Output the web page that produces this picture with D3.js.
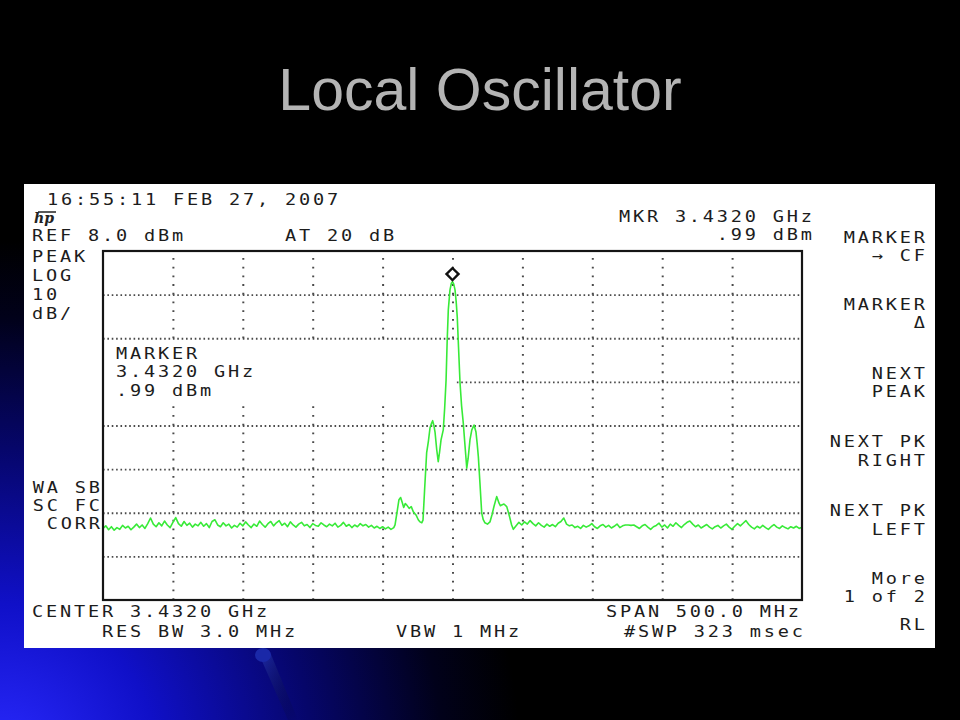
<!DOCTYPE html>
<html><head><meta charset="utf-8">
<script src="https://cdn.jsdelivr.net/npm/d3@7"></script>
<style>html,body{margin:0;padding:0;background:#000;overflow:hidden}</style>
</head><body><svg id="c" width="960" height="720"></svg>
<script>
// ---------------- data ----------------
const titleText = "Local Oscillator";
const centerMHz = 3432;
const spanMHz = 500;
const refLevelDbm = 8;
const dbPerDiv = 10;
const vDivs = 8;
const hDivs = 10;
const markerOffsetMHz = 0;
const markerLevelDbm = 0.99;

// noise floor left of the carrier (offsets -250 .. -42 MHz)
const noiseLeftRangeMHz = [-250, -42];
const noiseLeftDbm = [
  -55.6, -55.0, -55.9, -55.2, -56.0, -55.4, -55.8, -54.9, -55.5, -55.1, -55.9, -55.3, -54.6, -55.4, -54.8, -55.6, -54.5,
  -53.2, -54.6, -55.2, -54.3, -55.0, -53.9, -54.8, -55.4, -54.2, -53.1, -54.5, -55.1, -54.0, -54.9, -54.4, -55.3, -54.6, -55.0,
  -54.2, -55.1, -54.5, -55.4, -54.0, -53.6, -54.8, -55.2, -54.3, -55.0, -54.6, -55.5, -54.9, -55.3, -54.4, -55.0, -54.1, -54.8, -55.4, -54.6, -55.1,
  -53.9, -54.7, -55.3, -54.5, -54.0, -55.0, -54.3, -53.8, -54.9, -54.4, -55.2, -54.1, -54.8, -55.3, -54.6, -54.2, -55.0, -54.7, -55.4, -54.5, -54.9, -55.1, -54.3, -54.8, -55.2,
  -54.6, -55.0, -54.4, -55.3, -54.9, -54.2, -55.1, -54.7, -55.4, -54.8, -55.2, -54.5, -55.0, -54.7, -55.3, -54.9, -55.5, -55.1, -55.6, -55.2, -55.7, -55.3, -55.8, -55.4
];

// carrier and close-in sidebands
const signalOffsetMHz = [
  -41.1, -39.5, -38.3, -37.1, -36.0, -34.9, -33.8, -32.8, -31.0, -29.5, -28.0, -26.1, -24.5, -23.2, -22.0, -21.1,
  -20.0, -18.5, -17.2, -16.1, -15.0, -14.2, -13.3, -12.5, -11.3, -10.2, -9.2, -8.2, -6.6, -5.6, -4.6, -3.8, -3.0, -1.8, -0.8,
  0.0, 0.9, 1.8, 2.6, 3.4, 4.3, 5.4, 6.5, 7.7, 8.8, 10.2, 11.2, 12.5, 13.8, 15.4, 16.8, 17.6, 18.5, 19.6, 20.9, 22.0, 23.2,
  25.0, 26.8, 28.3, 29.7, 31.6, 32.5, 33.3, 34.3, 35.2, 36.8, 38.8, 40.5, 42.3
];
const signalLevelDbm = [
  -54.8, -51.5, -49.0, -48.5, -49.6, -50.8, -49.9, -50.2, -51.0, -50.6, -51.8, -52.5, -53.6, -54.1, -54.3, -53.7,
  -47.0, -38.3, -35.5, -32.6, -31.5, -30.9, -32.0, -33.5, -37.5, -40.3, -38.0, -35.3, -33.0, -28.0, -21.6, -12.5, -5.5, -0.9, 0.6,
  0.99, 0.4, -0.9, -3.5, -7.1, -14.0, -22.3, -27.5, -31.4, -36.0, -41.8, -39.5, -35.3, -33.0, -31.9, -33.5, -36.0, -39.2, -45.0, -52.1, -53.6, -54.3,
  -54.6, -54.1, -52.4, -50.5, -48.3, -49.1, -49.8, -50.4, -50.2, -50.0, -50.6, -52.5, -54.8
];

// noise floor right of the carrier (offsets 43.5 .. 250 MHz)
const noiseRightRangeMHz = [43.5, 250];
const noiseRightDbm = [
  -55.8, -55.0, -54.2, -54.8, -54.1, -54.6, -53.8, -54.5, -55.0, -54.3, -54.9, -55.3, -54.6, -55.1, -54.7, -55.2, -54.4, -54.0, -53.2, -54.6,
  -55.0, -54.8, -55.4, -55.1, -55.6, -54.9, -55.3, -55.0, -54.5, -55.2, -55.6, -55.0, -54.7, -55.3, -54.9, -55.5, -55.1, -54.6, -55.4, -55.0,
  -54.8, -54.8, -54.9, -54.8, -55.2, -55.6, -55.0, -54.7, -55.3, -55.8, -55.2, -54.9, -54.4, -55.3, -54.8, -55.5, -54.6, -55.1, -54.3, -54.9,
  -55.4, -54.7, -54.2, -53.9, -54.6, -55.2, -54.8, -55.5, -55.1, -54.7, -55.3, -55.7, -55.2, -54.9, -55.5, -55.0, -54.6, -55.3, -55.8, -55.1,
  -54.5, -55.0, -54.4, -53.8, -54.7, -55.3, -55.7, -55.1, -55.5, -54.9, -55.4, -55.8, -55.2, -54.7, -55.3, -55.6, -55.0, -55.4, -55.7, -55.2,
  -55.5, -55.1, -55.6, -55.3
];

// screen annotations
const dateText = "16:55:11 FEB 27, 2007";
const logoText = "hp";
const refText = "REF 8.0 dBm";
const attenText = "AT 20 dB";
const mkrReadout = ["MKR 3.4320 GHz", ".99 dBm"];
const modeLines = ["PEAK", "LOG", "10", "dB/"];
const markerBoxLines = ["MARKER", "3.4320 GHz", ".99 dBm"];
const corrLines = ["WA SB", "SC FC", "CORR"];
const softkeys = [["MARKER", "\u2192 CF"], ["MARKER", "\u0394"], ["NEXT", "PEAK"], ["NEXT PK", "RIGHT"], ["NEXT PK", "LEFT"], ["More", "1 of 2"], ["RL"]];
const footerRow1 = ["CENTER 3.4320 GHz", "SPAN 500.0 MHz"];
const footerRow2 = ["RES BW 3.0 MHz", "VBW 1 MHz", "#SWP 323 msec"];

// ---------------- drawing ----------------
const svg = d3.select("#c");
const W = 960, H = 720;
const defs = svg.append("defs");

const rg = defs.append("radialGradient").attr("id", "bg").attr("gradientUnits", "userSpaceOnUse")
  .attr("cx", 0).attr("cy", 760).attr("r", 520);
rg.append("stop").attr("offset", 0).attr("stop-color", "#2a2aff");
rg.append("stop").attr("offset", 0.3).attr("stop-color", "#1010c8");
rg.append("stop").attr("offset", 0.6).attr("stop-color", "#06066a");
rg.append("stop").attr("offset", 0.85).attr("stop-color", "#01011a");
rg.append("stop").attr("offset", 1).attr("stop-color", "#000000");
svg.append("rect").attr("width", W).attr("height", H).attr("fill", "#000");
svg.append("rect").attr("width", W).attr("height", H).attr("fill", "url(#bg)");

// decorative pin below the panel
const pg = defs.append("linearGradient").attr("id", "pin").attr("x1", 0).attr("y1", 0).attr("x2", 1).attr("y2", 1);
pg.append("stop").attr("offset", 0).attr("stop-color", "#2a3cc0").attr("stop-opacity", 0.7);
pg.append("stop").attr("offset", 1).attr("stop-color", "#000").attr("stop-opacity", 0);
svg.append("path").attr("d", "M258,652 L270,652 L298,720 L288,720 Z").attr("fill", "url(#pin)");
svg.append("ellipse").attr("cx", 263).attr("cy", 655).attr("rx", 8).attr("ry", 7).attr("fill", "#1a28a8");

// title
svg.append("text").attr("x", 480).attr("y", 110).attr("text-anchor", "middle")
  .attr("font-family", "Liberation Sans, Arial, sans-serif").attr("font-size", 59)
  .attr("fill", "#b4b4b4").text(titleText);

// white instrument panel
svg.append("rect").attr("x", 24).attr("y", 184).attr("width", 911).attr("height", 464).attr("fill", "#fff");

const PL = 103, PR = 802, PT = 251, PB = 600;
const x = d3.scaleLinear().domain([centerMHz - spanMHz / 2, centerMHz + spanMHz / 2]).range([PL, PR]);
const y = d3.scaleLinear().domain([refLevelDbm - dbPerDiv * vDivs, refLevelDbm]).range([PB, PT]);

const xGrid = d3.range(1, hDivs).map(i => x.domain()[0] + i * spanMHz / hDivs);
const yGrid = d3.range(1, vDivs).map(i => y.domain()[0] + i * dbPerDiv);

const gx = svg.append("g").attr("transform", `translate(0,${PB})`)
  .call(d3.axisBottom(x).tickValues(xGrid).tickSize(-(PB - PT)).tickFormat(""));
gx.select(".domain").remove();
gx.selectAll(".tick line").attr("stroke", "#4a4a4a").attr("stroke-width", 2)
  .attr("stroke-dasharray", `1.8 ${(PB - PT) / vDivs / 5 - 1.8}`);

const gy = svg.append("g").attr("transform", `translate(${PL},0)`)
  .call(d3.axisLeft(y).tickValues(yGrid).tickSize(-(PR - PL)).tickFormat(""));
gy.select(".domain").remove();
gy.selectAll(".tick line").attr("stroke", "#4a4a4a").attr("stroke-width", 1.8)
  .attr("stroke-dasharray", `1.6 ${(PR - PL) / hDivs / 16 - 1.6}`);

// erased annotation area behind the marker readout
svg.append("rect").attr("x", PL + 1).attr("y", y(yGrid[5]) + 2).attr("width", x(centerMHz) - PL + 2)
  .attr("height", y(yGrid[4]) - y(yGrid[5]) + 21).attr("fill", "#fff");

// trace
const pts = [];
noiseLeftDbm.forEach((v, i) => pts.push([noiseLeftRangeMHz[0] + i * (noiseLeftRangeMHz[1] - noiseLeftRangeMHz[0]) / (noiseLeftDbm.length - 1), v]));
signalOffsetMHz.forEach((o, i) => pts.push([o, signalLevelDbm[i]]));
noiseRightDbm.forEach((v, i) => pts.push([noiseRightRangeMHz[0] + i * (noiseRightRangeMHz[1] - noiseRightRangeMHz[0]) / (noiseRightDbm.length - 1), v]));
const line = d3.line().x(d => x(centerMHz + d[0])).y(d => y(d[1]));
svg.append("path").datum(pts).attr("d", line).attr("fill", "none")
  .attr("stroke", "#38ea38").attr("stroke-width", 1.6).attr("stroke-linejoin", "round");

// plot border
svg.append("rect").attr("x", PL).attr("y", PT).attr("width", PR - PL).attr("height", PB - PT)
  .attr("fill", "none").attr("stroke", "#151515").attr("stroke-width", 2.2);

// marker diamond
svg.append("path").attr("d", d3.symbol(d3.symbolSquare, 72)())
  .attr("transform", `translate(${x(centerMHz + markerOffsetMHz)},${y(markerLevelDbm) - 7.5}) rotate(45)`)
  .attr("fill", "#fff").attr("stroke", "#111").attr("stroke-width", 2.4);

// instrument text (wide HP-style characters: 14 px pitch)
const SX = 1.2, FS = 15.5, PITCH = 14;
const LS = (PITCH - 0.602 * FS * SX) / SX;
function txt(s, xx, yy, anchor) {
  const g = svg.append("g").attr("transform", `translate(${xx},${yy}) scale(${SX},1)`);
  g.append("text").attr("x", anchor === "end" ? LS : 0).attr("y", 0)
    .attr("text-anchor", anchor || "start")
    .attr("font-family", "DejaVu Sans Mono, monospace").attr("font-size", FS)
    .attr("letter-spacing", LS).attr("fill", "#1c1c1c").text(s);
}
txt(dateText, 47, 205);
svg.append("text").attr("x", 34).attr("y", 223).attr("font-family", "DejaVu Serif, serif")
  .attr("font-style", "italic").attr("font-weight", "bold").attr("font-size", 14).attr("fill", "#222").text(logoText);
svg.append("path").attr("d", "M38,212 L56,212").attr("stroke", "#222").attr("stroke-width", 1.5);
txt(refText, 32, 241);
txt(attenText, 285, 241);
txt(mkrReadout[0], 812, 222, "end");
txt(mkrReadout[1], 812, 240, "end");
[262, 281, 300, 319].forEach((b, i) => txt(modeLines[i], 32, b));
[359, 377, 396].forEach((b, i) => txt(markerBoxLines[i], 116, b));
[493, 511, 529].forEach((b, i) => txt(corrLines[i], 100, b, "end"));
const skBase = [[243, 261], [310, 328], [379, 397], [447, 466], [516, 535], [584, 602], [630]];
softkeys.forEach((k, i) => k.forEach((s, j) => txt(s, 925, skBase[i][j], "end")));
txt(footerRow1[0], 32, 617);
txt(footerRow1[1], 799, 617, "end");
txt(footerRow2[0], 102, 637);
txt(footerRow2[1], 396, 637);
txt(footerRow2[2], 803, 637, "end");
</script></body></html>
